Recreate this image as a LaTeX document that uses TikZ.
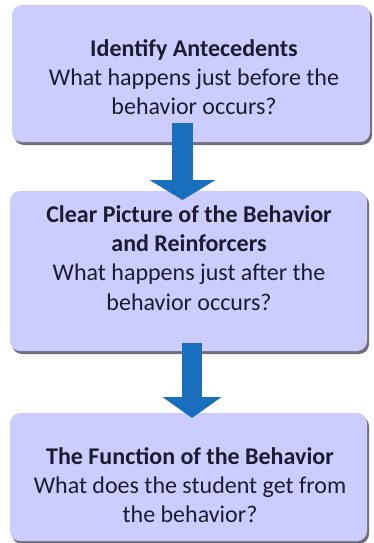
\documentclass[tikz,border=0pt]{standalone}
\usepackage{fontspec}
\setmainfont{Carlito}
\usetikzlibrary{arrows.meta,shadows}
\definecolor{boxfill}{RGB}{204,204,255}
\definecolor{txtc}{RGB}{28,28,48}
\definecolor{arrowc}{RGB}{26,110,190}
\definecolor{shadowc}{RGB}{95,95,110}
\tikzset{
  box/.style={draw=none, fill=boxfill, rounded corners=10pt, inner sep=0pt,
    drop shadow={shadow xshift=2pt, shadow yshift=-3pt, fill=shadowc, opacity=0.9}},
  txt/.style={align=center, text=txtc, inner sep=0pt, font=\fontsize{24}{29.3}\selectfont},
  flowarrow/.style={draw=arrowc, line width=21pt, line cap=butt,
    -{Triangle[width=65pt,length=20pt]}}
}
\begin{document}
\begin{tikzpicture}[x=1pt,y=1pt]
\useasboundingbox (0,0) rectangle (373,-543);
% boxes
\node[box, minimum width=358pt, minimum height=137pt] (b1) at (191,-73.5) {};
\node[box, minimum width=357pt, minimum height=160pt] (b2) at (188.5,-271) {};
\node[box, minimum width=357pt, minimum height=128pt] (b3) at (188.5,-477) {};
% texts
\node[txt] (t1) at (194,-77) {\textbf{Identify Antecedents}\\What happens just before the\\behavior occurs?};
\node[txt] (t2) at (189,-258) {\textbf{Clear Picture of the Behavior}\\\textbf{and Reinforcers}\\What happens just after the\\behavior occurs?};
\node[txt] (t3) at (190,-485) {\textbf{The Function of the Behavior}\\What does the student get from\\the behavior?};
% arrows
\coordinate (a1s) at (182.5,-123);
\coordinate (a1e) at (182.5,-200);
\coordinate (a2s) at (192,-343);
\coordinate (a2e) at (192,-418);
\draw[flowarrow] (a1s) -- (a1e);
\draw[flowarrow, line width=20pt, -{Triangle[width=58pt,length=21pt]}] (a2s) -- (a2e);
\end{tikzpicture}
\end{document}
